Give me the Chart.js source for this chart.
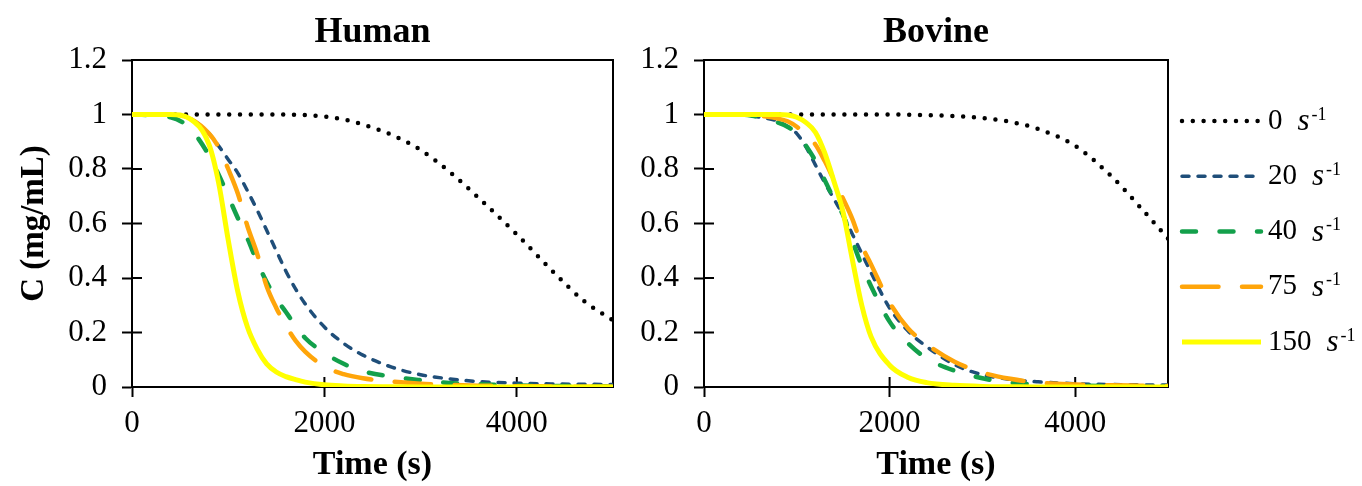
<!DOCTYPE html>
<html>
<head>
<meta charset="utf-8">
<script src="https://cdn.jsdelivr.net/npm/chart.js@4.4.1/dist/chart.umd.min.js"></script>
<style>
  html, body { margin: 0; padding: 0; background: #fff; }
  #wrap { position: relative; width: 1362px; height: 486px; }
  #wrap canvas { position: absolute; top: 0; }
  #human { left: 0; }
  #bovine { left: 624px; }
</style>
</head>
<body>
<div id="wrap">
  <canvas id="human" width="624" height="486"></canvas>
  <canvas id="bovine" width="738" height="486"></canvas>
</div>
<script>
// sampling times (s), shared by every curve
const times = [0, 400, 600, 800, 900, 1000, 1100, 1200, 1300, 1400, 1500, 1600, 1700, 1800,
               2000, 2200, 2400, 2700, 3000, 3300, 3600, 4000, 4400, 4700, 5000];
const shearRates = ['0', '20', '40', '75', '150'];
const xTicks = [0, 2000, 4000];
const yTicks = [0, 0.2, 0.4, 0.6, 0.8, 1, 1.2];

// concentration C (mg/mL), human
const human0   = [1, 1, 1, 1, 1, 1, 1, 1, 1, 1, 1, 1, 0.999, 0.998, 0.993, 0.982, 0.963, 0.925, 0.87, 0.79, 0.695, 0.56, 0.415, 0.315, 0.245];
const human20  = [1, 1, 0.985, 0.93, 0.885, 0.835, 0.785, 0.72, 0.65, 0.575, 0.5, 0.425, 0.36, 0.305, 0.22, 0.16, 0.117, 0.073, 0.045, 0.03, 0.02, 0.014, 0.011, 0.01, 0.009];
const human40  = [1, 0.99, 0.95, 0.85, 0.78, 0.7, 0.62, 0.545, 0.46, 0.385, 0.325, 0.275, 0.225, 0.18, 0.125, 0.085, 0.058, 0.038, 0.025, 0.015, 0.01, 0.006, 0.004, 0.003, 0.003];
const human75  = [1, 1, 0.985, 0.93, 0.88, 0.8, 0.71, 0.59, 0.49, 0.37, 0.29, 0.225, 0.17, 0.13, 0.075, 0.047, 0.032, 0.02, 0.012, 0.008, 0.005, 0.003, 0.002, 0.001, 0.001];
const human150 = [1, 1, 0.985, 0.89, 0.75, 0.54, 0.35, 0.22, 0.14, 0.085, 0.055, 0.038, 0.027, 0.018, 0.008, 0.004, 0.002, 0.001, 0, 0, 0, 0, 0, 0, 0];

// concentration C (mg/mL), bovine
const bovine0   = [1, 1, 1, 1, 1, 1, 1, 1, 1, 1, 1, 1, 1, 1, 1, 0.999, 0.998, 0.994, 0.987, 0.973, 0.947, 0.885, 0.77, 0.66, 0.545];
const bovine20  = [1, 1, 0.99, 0.975, 0.955, 0.93, 0.88, 0.815, 0.75, 0.69, 0.63, 0.56, 0.49, 0.42, 0.29, 0.205, 0.148, 0.082, 0.045, 0.028, 0.019, 0.012, 0.009, 0.008, 0.007];
const bovine40  = [1, 1, 0.99, 0.97, 0.955, 0.93, 0.885, 0.83, 0.76, 0.69, 0.63, 0.535, 0.445, 0.37, 0.24, 0.16, 0.105, 0.06, 0.032, 0.016, 0.009, 0.005, 0.003, 0.002, 0.002];
const bovine75  = [1, 1, 0.995, 0.985, 0.975, 0.955, 0.925, 0.89, 0.83, 0.76, 0.69, 0.615, 0.52, 0.45, 0.31, 0.215, 0.157, 0.093, 0.053, 0.03, 0.016, 0.009, 0.006, 0.005, 0.004];
const bovine150 = [1, 1, 1, 1, 0.998, 0.99, 0.97, 0.935, 0.86, 0.755, 0.64, 0.465, 0.3, 0.185, 0.08, 0.035, 0.016, 0.006, 0.002, 0.001, 0, 0, 0, 0, 0];

// line look per shear rate
const lineStyles = [
  {color: '#000000', width: 4.5, dash: [0, 10.8], cap: 'round', order: 4},
  {color: '#1f4e79', width: 3.5, dash: [7, 9], cap: 'round', order: 3},
  {color: '#13a04b', width: 4.5, dash: [14, 23.5], cap: 'round', order: 2},
  {color: '#ffa50a', width: 4.5, dash: [36.5, 23.5], cap: 'round', order: 1},
  {color: '#ffff00', width: 5, dash: [], cap: 'butt', order: 0}
];

const serif = '"Liberation Serif", "Times New Roman", serif';

// top/right box, inner half of the cross ticks, panel title
const framePlugin = {
  id: 'frame',
  beforeDatasetsDraw(chart, args, opts) {
    const {ctx, chartArea: a, scales: {x, y}} = chart;
    ctx.save();
    ctx.strokeStyle = '#000';
    ctx.lineWidth = 2;
    ctx.beginPath();
    ctx.moveTo(a.left, a.top);
    ctx.lineTo(a.right, a.top);
    ctx.lineTo(a.right, a.bottom);
    for (const t of y.ticks) {
      const py = y.getPixelForValue(t.value);
      ctx.moveTo(a.left, py);
      ctx.lineTo(a.left + 10, py);
    }
    for (const t of x.ticks) {
      const px = x.getPixelForValue(t.value);
      ctx.moveTo(px, a.bottom);
      ctx.lineTo(px, a.bottom - 10);
    }
    ctx.stroke();
    ctx.fillStyle = '#000';
    ctx.font = 'bold 36px ' + serif;
    ctx.textAlign = 'center';
    ctx.textBaseline = 'middle';
    ctx.fillText(opts.text, (a.left + a.right) / 2, 33);
    ctx.restore();
  }
};

// legend with line samples to the right of the plot
const rateLegend = {
  id: 'rateLegend',
  afterDraw(chart, args, opts) {
    if (!opts.show) return;
    const {ctx, chartArea: a} = chart;
    ctx.save();
    chart.data.datasets.forEach((ds, i) => {
      const y = a.top + 61 + i * 55.25;
      ctx.strokeStyle = ds.borderColor;
      ctx.lineWidth = ds.borderWidth;
      ctx.lineCap = ds.borderCapStyle;
      ctx.setLineDash(ds.borderDash);
      ctx.beginPath();
      ctx.moveTo(a.right + 14, y);
      ctx.lineTo(a.right + 93, y);
      ctx.stroke();
      ctx.setLineDash([]);

      ctx.fillStyle = '#000';
      ctx.textAlign = 'left';
      ctx.textBaseline = 'middle';
      const tx = a.right + 100;
      ctx.font = '29px ' + serif;
      ctx.fillText(shearRates[i], tx, y);
      const sx = tx + ctx.measureText(shearRates[i]).width + 15;
      ctx.font = 'italic 31px ' + serif;
      ctx.fillText('s', sx, y + 1);
      const ex = sx + ctx.measureText('s').width + 2;
      ctx.font = '18px ' + serif;
      ctx.fillText('-1', ex, y - 6);
    });
    ctx.restore();
  }
};

function buildDatasets(series) {
  return series.map((vals, i) => ({
    label: shearRates[i] + ' s-1',
    data: times.map((t, j) => ({x: t, y: vals[j]})),
    borderColor: lineStyles[i].color,
    borderWidth: lineStyles[i].width,
    borderDash: lineStyles[i].dash,
    borderCapStyle: lineStyles[i].cap,
    order: lineStyles[i].order,
    pointRadius: 0,
    fill: false,
    cubicInterpolationMode: 'monotone'
  }));
}

function makeChart(canvasId, title, series, yAxisWidth, padRight, showYTitle, showLegend) {
  return new Chart(document.getElementById(canvasId), {
    type: 'line',
    data: {datasets: buildDatasets(series)},
    plugins: [framePlugin, rateLegend],
    options: {
      responsive: false,
      animation: false,
      devicePixelRatio: 1,
      layout: {padding: {top: 60, right: padRight, bottom: 0, left: 0}},
      scales: {
        x: {
          type: 'linear',
          min: 0,
          max: 5000,
          afterBuildTicks: s => { s.ticks = xTicks.map(v => ({value: v})); },
          afterFit: s => { s.height = 99; },
          border: {display: true, color: '#000', width: 2},
          grid: {display: true, drawOnChartArea: false, drawTicks: true, tickLength: 10, tickWidth: 2, tickColor: '#000'},
          ticks: {color: '#000', font: {family: serif, size: 31}, padding: 8, maxRotation: 0, callback: v => String(v)},
          title: {display: true, text: 'Time (s)', color: '#000', font: {family: serif, size: 34, weight: 'bold'}, padding: {top: 0, bottom: 0}}
        },
        y: {
          type: 'linear',
          min: 0,
          max: 1.2,
          afterBuildTicks: s => { s.ticks = yTicks.map(v => ({value: v})); },
          afterFit: s => { s.width = yAxisWidth; },
          border: {display: true, color: '#000', width: 2},
          grid: {display: true, drawOnChartArea: false, drawTicks: true, tickLength: 10, tickWidth: 2, tickColor: '#000'},
          ticks: {color: '#000', font: {family: serif, size: 31}, padding: 15, callback: v => String(+v.toFixed(1))},
          title: {display: showYTitle, text: 'C (mg/mL)', color: '#000', font: {family: serif, size: 33, weight: 'bold'}, padding: {top: 15, bottom: 0}}
        }
      },
      plugins: {
        legend: {display: false},
        tooltip: {enabled: false},
        frame: {text: title},
        rateLegend: {show: showLegend}
      }
    }
  });
}

makeChart('human', 'Human', [human0, human20, human40, human75, human150], 132, 11, true, false);
makeChart('bovine', 'Bovine', [bovine0, bovine20, bovine40, bovine75, bovine150], 80, 194, false, true);
</script>
</body>
</html>
